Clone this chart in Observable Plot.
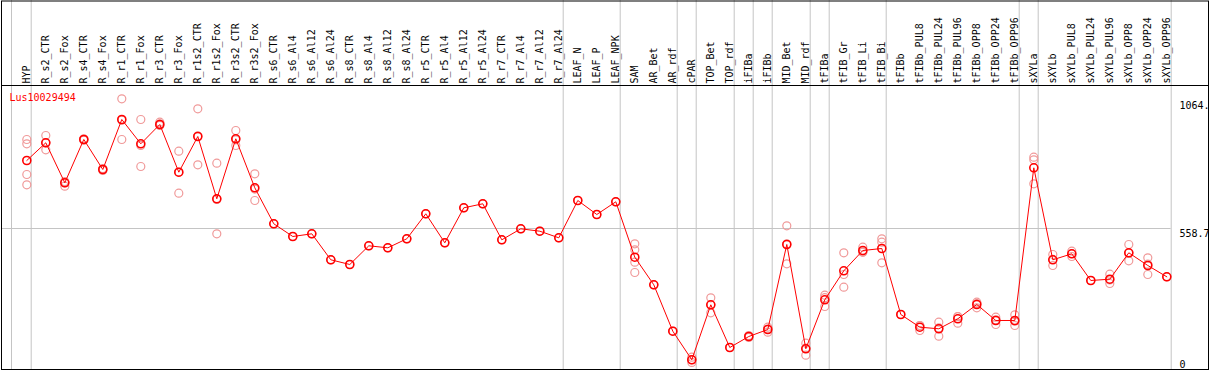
<!DOCTYPE html>
<html>
<head>
<meta charset="utf-8">
<script src="https://cdn.jsdelivr.net/npm/d3@7"></script>
<script src="https://cdn.jsdelivr.net/npm/@observablehq/plot@0.6"></script>
<style>
  html, body { margin: 0; padding: 0; background: #fff; }
  svg { display: block; }
</style>
</head>
<body>
<div id="chart"></div>
<script>
const title = "Lus10029494";

const categories = [
  "HYP","R_s2_CTR","R_s2_Fox","R_s4_CTR","R_s4_Fox","R_r1_CTR","R_r1_Fox","R_r3_CTR","R_r3_Fox",
  "R_r1s2_CTR","R_r1s2_Fox","R_r3s2_CTR","R_r3s2_Fox","R_s6_CTR","R_s6_Al4","R_s6_Al12","R_s6_Al24",
  "R_s8_CTR","R_s8_Al4","R_s8_Al12","R_s8_Al24","R_r5_CTR","R_r5_Al4","R_r5_Al12","R_r5_Al24",
  "R_r7_CTR","R_r7_Al4","R_r7_Al12","R_r7_Al24","LEAF_N","LEAF_P","LEAF_NPK","SAM","AR_Bet","AR_rdf",
  "cPAR","TOP_Bet","TOP_rdf","iFIBa","iFIBb","MID_Bet","MID_rdf","tFIBa","tFIB_Gr","tFIB_Li","tFIB_Bi",
  "tFIBb","tFIBb_PUL8","tFIBb_PUL24","tFIBb_PUL96","tFIBb_OPP8","tFIBb_OPP24","tFIBb_OPP96",
  "sXYLa","sXYLb","sXYLb_PUL8","sXYLb_PUL24","sXYLb_PUL96","sXYLb_OPP8","sXYLb_OPP24","sXYLb_OPP96"
];

const means = [
  828.1, 898.3, 739.8, 911.4, 792.5, 990.6, 894.3, 970.8, 781.8,
  923.2, 676.4, 914.1, 720.0, 577.3, 527.0, 537.7, 434.7,
  416.1, 490.1, 482.2, 517.9, 616.9, 502.0, 640.7, 656.6,
  513.9, 557.5, 548.0, 521.8, 669.6, 614.2, 664.5, 445.0, 335.6, 151.8,
  38.4, 256.4, 87.2, 130.8, 158.5, 495.3, 82.0, 276.2, 391.1, 471.5, 479.5,
  217.9, 167.6, 161.3, 200.9, 257.6, 194.2, 194.2,
  799.2, 434.7, 458.4, 352.7, 357.8, 462.4, 412.1, 367.3
];

const replicates = [
  [911.4, 894.3, 772.7, 731.9], [927.2, 870.5, 898.3], [744.9, 726.3, 739.8], [914.1, 908.6, 911.4],
  [792.5, 788.5, 796.5], [1072.6, 911.4, 987.8], [990.6, 804.4, 887.9], [979.9, 973.6, 966.8],
  [865.0, 698.6, 781.8], [1033.0, 811.1, 925.5], [817.4, 537.7, 674.1], [947.0, 887.6, 910.0],
  [775.4, 669.6, 715.0], [577.3], [527.0], [537.7], [434.7],
  [416.1], [490.1], [482.2], [517.9], [616.9], [502.0], [640.7], [656.6],
  [513.9], [557.5], [548.0], [521.8], [669.6], [614.2], [664.5],
  [498.1, 474.3, 425.2, 384.4], [335.6], [151.8],
  [48.7, 38.4, 28.1], [284.1, 224.7, 256.4], [87.2], [126.8, 134.7, 130.8], [167.6, 147.8, 160.1],
  [569.4, 418.8, 497.7], [104.2, 56.7, 85.1], [294.4, 249.6, 284.6], [462.4, 376.4, 326.1],
  [484.6, 464.8, 465.1], [517.9, 504.4, 422.8],
  [217.9], [174.3, 154.5, 174.0], [187.4, 131.9, 164.6], [210.0, 183.5, 209.2],
  [266.7, 244.5, 261.6], [207.2, 178.3, 197.1], [216.7, 174.3, 191.6],
  [841.2, 830.9, 735.8], [455.7, 412.1, 436.3], [468.8, 447.8, 458.6], [352.7],
  [377.6, 340.8, 355.0], [495.3, 430.7, 461.2], [442.6, 376.4, 417.3], [367.3]
];

// samples after which a group separator is drawn
const groupEnds = ["HYP","R_r7_Al24","LEAF_NPK","AR_rdf","cPAR","TOP_rdf","iFIBa","iFIBb",
  "MID_rdf","tFIBa","tFIB_Bi","tFIBb_OPP96","sXYLa","sXYLb_OPP96"];

const yTicks = [1064, 558.7, 0];
const yTickLabels = ["1064.", "558.7", "0"];
const yGrid = [558.7];

const meanRows = categories.map((c, i) => ({sample: c, value: means[i]}));
const repRows = replicates.flatMap((vals, i) => vals.map(v => ({sample: categories[i], value: v})));

const font = "'DejaVu Sans Mono', monospace";
const fs = 10;

const chart = Plot.plot({
  width: 1209,
  height: 370,
  marginTop: 85,
  marginBottom: 1,
  marginLeft: 1,
  marginRight: 1,
  style: {fontFamily: font, fontSize: fs + "px", background: "#fff"},
  x: {type: "point", domain: categories, range: [26.3, 1166.3], padding: 0, round: false, axis: null},
  y: {domain: [0, 1125.3], axis: null},
  marks: [
    // group separators
    Plot.ruleX([categories[0]], {x: d => d, dx: -15.3, insetTop: -85, stroke: "#c4c4c4", strokeWidth: 1}),
    Plot.ruleX(groupEnds, {x: d => d, dx: 4.4, insetTop: -85, stroke: "#c4c4c4", strokeWidth: 1}),
    // horizontal grid
    Plot.ruleY(yGrid, {stroke: "#c4c4c4", strokeWidth: 1, insetRight: 37.3}),
    // frames
    Plot.frame({stroke: "black", strokeWidth: 1}),
    Plot.frame({stroke: "black", strokeWidth: 1, insetTop: -84.5}),
    // sample labels (rotated)
    Plot.text(categories, {
      x: d => d, text: d => d, frameAnchor: "top", rotate: -90,
      textAnchor: "start", lineAnchor: "middle", dy: -2, dx: -0.3,
      fill: "black", fontFamily: font, fontSize: fs
    }),
    // y labels
    Plot.text([0, 1], {
      frameAnchor: "right", y: i => yTicks[i], text: i => yTickLabels[i],
      textAnchor: "start", lineAnchor: "top", dx: -29, dy: 1,
      fill: "black", fontFamily: font, fontSize: fs
    }),
    Plot.text([2], {
      frameAnchor: "right", y: i => yTicks[i], text: i => yTickLabels[i],
      textAnchor: "start", lineAnchor: "bottom", dx: -29, dy: -2,
      fill: "black", fontFamily: font, fontSize: fs
    }),
    // title
    Plot.text([title], {
      frameAnchor: "top-left", text: d => d, textAnchor: "start", lineAnchor: "middle",
      dx: 8, dy: 12, fill: "red", fontFamily: font, fontSize: fs
    }),
    // replicates
    Plot.dot(repRows, {x: "sample", y: "value", r: 4, stroke: "#f09a9a", strokeWidth: 1.2, fill: "none"}),
    // mean line
    Plot.line(meanRows, {x: "sample", y: "value", stroke: "red", strokeWidth: 1}),
    // means
    Plot.dot(meanRows, {x: "sample", y: "value", r: 4, stroke: "red", strokeWidth: 1.6, fill: "none"})
  ]
});

document.getElementById("chart").appendChild(chart);
</script>
</body>
</html>
